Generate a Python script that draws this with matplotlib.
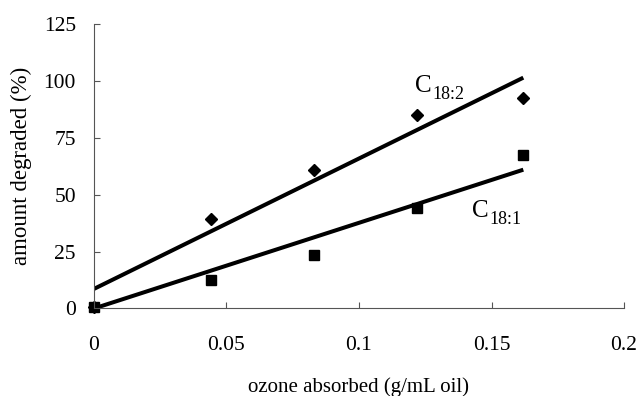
import numpy as np
import matplotlib
matplotlib.use('Agg')
import matplotlib.pyplot as plt

# данные
ozone = [0.0, 0.044, 0.083, 0.122, 0.162]
c182 = [0.5, 39.5, 61.0, 85.0, 92.5]
c181 = [0.5, 12.5, 23.5, 44.0, 67.5]

x_ticks = [0, 0.05, 0.1, 0.15, 0.2]
x_tick_labels = ['0', '0.05', '0.1', '0.15', '0.2']
y_ticks = [0, 25, 50, 75, 100, 125]

plt.rcParams['font.family'] = ['Liberation Serif', 'DejaVu Serif']

fig = plt.figure(figsize=(6.41, 3.96), dpi=100)
ax = fig.add_axes([0.1466, 0.221, 0.8269, 0.7184])

x = np.array(ozone)
xx = np.array([0, x.max()])

# линейная регрессия для C18:2
k2, b2 = np.polyfit(x, c182, 1)
ax.plot(xx, k2 * xx + b2, color='black', lw=2.9, solid_capstyle='butt')

# регрессия через начало координат для C18:1
k1 = np.sum(x * np.array(c181)) / np.sum(x * x)
ax.plot(xx, k1 * xx, color='black', lw=2.9, solid_capstyle='butt')

ax.plot(ozone, c182, 'D', color='black', ms=6.5, clip_on=False)
ax.plot(ozone, c181, 's', color='black', ms=7.4, clip_on=False)

# подписи C с нижним индексом
for name, sub, lx, ly in [('C', '18:2', 0.1211, 95), ('C', '18:1', 0.1426, 40)]:
    ax.text(lx, ly, name, fontsize=18, va='baseline')
    ax.annotate(sub, xy=(lx, ly), xytext=(12.5, -5), textcoords='offset points',
                fontsize=13, va='baseline')

ax.set_xlim(0, 0.2)
ax.set_ylim(0, 125)
ax.set_xticks(x_ticks)
ax.set_xticklabels(x_tick_labels)
ax.set_yticks(y_ticks)

for side in ['top', 'right']:
    ax.spines[side].set_visible(False)
for side in ['left', 'bottom']:
    ax.spines[side].set_color('#555555')
    ax.spines[side].set_linewidth(0.8)

ax.tick_params(axis='both', direction='in', length=4.5, width=0.8,
               color='#555555', labelsize=15.5)
ax.tick_params(axis='x', pad=20)
ax.tick_params(axis='y', pad=13)

ax.set_xlabel('ozone absorbed (g/mL oil)', fontsize=15, labelpad=16)
ax.set_ylabel('amount degraded (%)', fontsize=16.5, labelpad=8)

plt.savefig('out.png', dpi=100)
plt.close()
